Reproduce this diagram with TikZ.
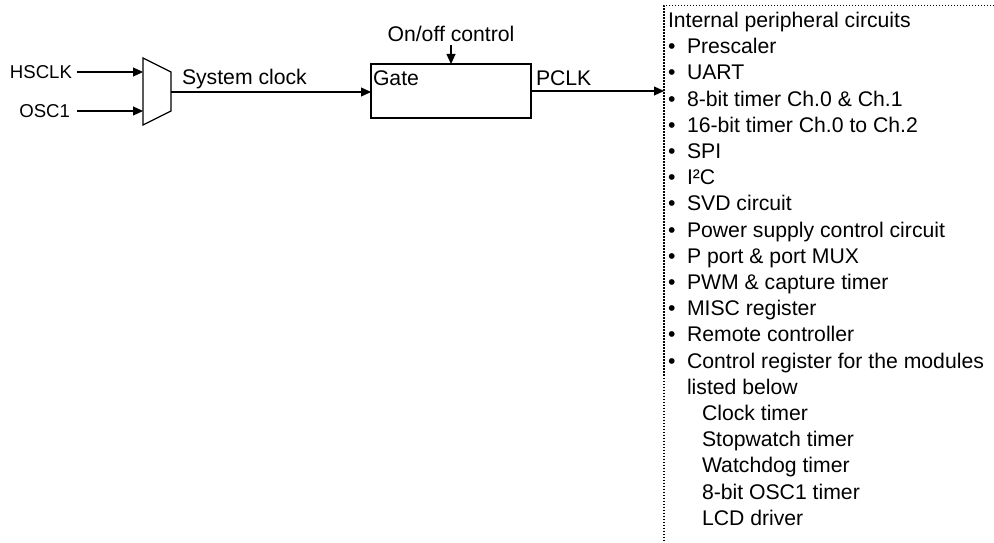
\documentclass[tikz,border=0pt]{standalone}
\usepackage{fontspec}
\setmainfont{Liberation Sans}
\usetikzlibrary{arrows.meta}
\begin{document}
\begin{tikzpicture}[x=1pt,y=-1pt,
  every node/.style={inner sep=0pt, outer sep=0pt, font=\fontsize{21.2}{26}\selectfont},
  srclbl/.style={anchor=east, font=\fontsize{18.6}{22}\selectfont},
  wire/.style={line width=1.2pt},
  sig/.style={wire, -{Triangle[length=10pt,width=9pt]}},
  txt/.style={anchor=base west},
  frame/.style={line width=1.3pt, dash pattern=on 1.4pt off 1.6pt},
  blockbox/.style={draw, wire, minimum width=160pt, minimum height=54pt}]
  \useasboundingbox[fill=white] (0,0) rectangle (994,543);

  % clock sources
  \node[srclbl] (hs) at (72,72) {HSCLK};
  \node[srclbl] (osc) at (70,111) {OSC1};

  % clock selector
  \coordinate (muxin1) at (143,72);
  \coordinate (muxin2) at (143,111);
  \coordinate (muxout) at (171,92);
  \draw[wire] (143,58) -- (171,72) -- (171,111) -- (143,125) -- cycle;
  \draw[sig] ([xshift=5pt]hs.east) -- (hs.east -| muxin1);
  \draw[sig] ([xshift=7pt]osc.east) -- (osc.east -| muxin2);

  % gate
  \node[blockbox] (gate) at (451,91) {};
  \node[txt] (gatelbl) at (373,85.5) {Gate};
  \node[anchor=base] (onoff) at (451,41.5) {On/off control};
  \coordinate (ctl) at (451,45);
  \draw[sig] (ctl) -- (gate.north);

  \node[txt] (sysclk) at (182,84.5) {System clock};
  \draw[sig] (muxout) -- (gate.west |- muxout);

  % peripheral list frame
  \coordinate (frame) at (664,5.5);
  \draw[frame] (994,5.5) -- (frame) -- (664,543);

  \node[txt] (pclk) at (536,85.5) {PCLK};
  \draw[sig] (gate.east) -- (gate.east -| frame);

  \node[txt] (head) at (668,27.5) {Internal peripheral circuits};
  \foreach \t [count=\i from 1] in {Prescaler, UART, {8-bit timer Ch.0 \& Ch.1},
      {16-bit timer Ch.0 to Ch.2}, SPI, I²C, SVD circuit,
      Power supply control circuit, {P port \& port MUX},
      {PWM \& capture timer}, MISC register, Remote controller,
      Control register for the modules} {
    \node[txt] (dot\i) at (668,{27.5+26.2*\i}) {•};
    \node[txt] (item\i) at (687,{27.5+26.2*\i}) {\t};
  }
  \node[txt] (cont) at (687,{27.5+26.2*14}) {listed below};
  \foreach \t [count=\i from 15] in {Clock timer, Stopwatch timer,
      Watchdog timer, 8-bit OSC1 timer, LCD driver} {
    \node[txt] (sub\i) at (702,{27.5+26.2*\i}) {\t};
  }
\end{tikzpicture}
\end{document}
